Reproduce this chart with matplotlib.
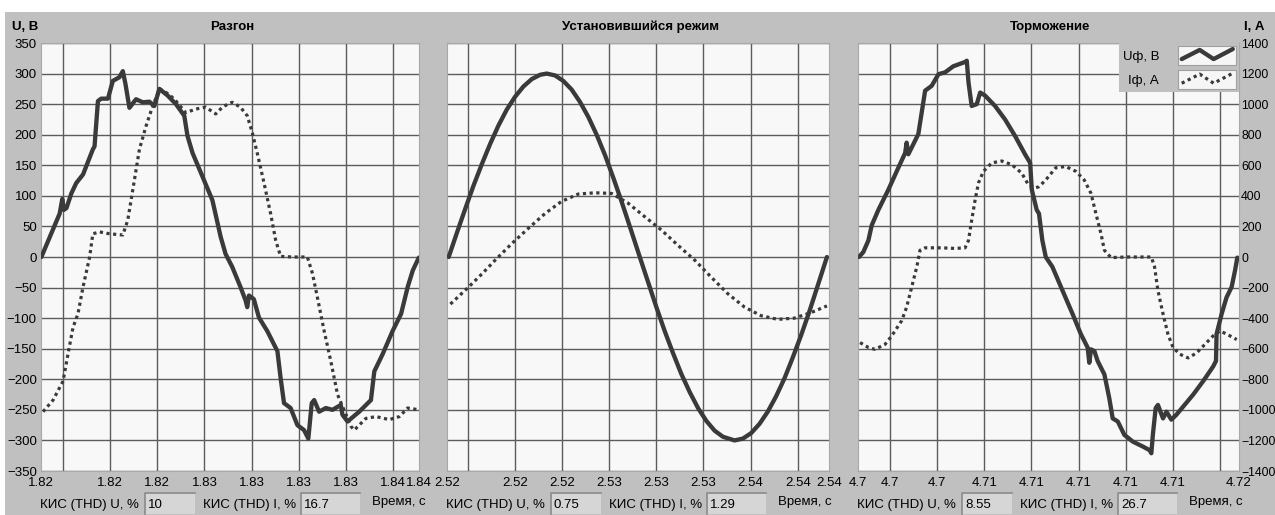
import numpy as np
import matplotlib
matplotlib.use('Agg')
import matplotlib.pyplot as plt
from matplotlib.patches import Rectangle
from matplotlib.lines import Line2D
from matplotlib.legend_handler import HandlerLine2D

W, H = 1275, 515
GRAY = '#c0c0c0'
INK = '#3a3a3a'
GRID = '#5c5c5c'

plt.rcParams['font.family'] = ['Liberation Sans', 'DejaVu Sans']
plt.rcParams['font.size'] = 9.5

# ---- data (time in ms from each panel's first gridline) ----
TITLES = ['Разгон', 'Установившийся режим', 'Торможение']
T0 = [1.82, 2.52, 4.70]
XLIM_MS = [(-1.17, 18.88), (-1.11, 19.16), (-1.70, 18.51)]

accel_u_ms = [-1.15, -0.70, -0.18, -0.04, 0.04, 0.18, 0.44, 0.70, 1.06, 1.58,
              1.67, 1.85, 2.02, 2.38, 2.64, 2.99, 3.17, 3.31, 3.52, 3.87,
              4.23, 4.58, 4.84, 5.11, 5.55, 5.99, 6.43, 6.60, 6.87, 7.39,
              7.92, 8.36, 8.62, 8.97, 9.41, 9.68, 9.77, 9.86, 10.12, 10.39,
              10.83, 11.37, 11.54, 11.72, 12.07, 12.43, 12.78, 13.01, 13.19,
              13.32, 13.58, 13.94, 14.29, 14.73, 14.82, 15.09, 15.71, 16.33,
              16.51, 16.95, 17.48, 17.93, 18.28, 18.55, 18.87]
accel_u = [0, 33, 71, 95, 77, 80, 104, 121, 135, 176,
           181, 255, 259, 259, 288, 294, 304, 283, 244, 258,
           253, 254, 247, 275, 264, 250, 231, 198, 170, 132,
           93, 33, 5, -16, -49, -71, -82, -63, -69, -99,
           -121, -154, -198, -239, -247, -275, -283, -297, -239,
           -234, -253, -247, -250, -242, -258, -269, -253, -234,
           -187, -159, -121, -93, -49, -22, -1]
accel_i_ms = [-1.06, -0.53, 0.00, 0.26, 0.53, 0.79, 1.06, 1.41, 1.58, 1.94,
              2.46, 3.17, 3.43, 3.70, 4.05, 4.40, 4.67, 4.84, 5.11, 5.63,
              5.99, 6.51, 7.04, 7.57, 8.10, 8.45, 8.80, 8.97, 9.41, 9.77,
              10.04, 10.30, 10.66, 11.01, 11.28, 11.54, 12.16, 12.96, 13.23,
              13.49, 13.85, 14.20, 14.56, 14.90, 15.27, 15.45, 16.06, 16.60,
              17.30, 17.84, 18.28, 18.90]
accel_i = [-1012, -936, -812, -636, -460, -372, -196, 0, 152, 164,
           152, 144, 240, 440, 704, 856, 956, 1012, 1100, 1064,
           1020, 944, 968, 980, 936, 980, 1004, 1012, 980, 924,
           812, 680, 484, 284, 108, 4, 0, 0, -108,
           -264, -484, -680, -900, -1000, -1108, -1132, -1056, -1044,
           -1064, -1044, -988, -1000]

steady_u_ms = [-1.02, -0.58, -0.14, 0.30, 0.74, 1.18, 1.62, 2.06, 2.50, 2.95,
               3.39, 3.83, 4.18, 4.62, 5.06, 5.50, 5.94, 6.39, 6.83, 7.27,
               7.71, 8.15, 8.59, 9.12, 9.56, 10.00, 10.44, 10.88, 11.32, 11.77,
               12.21, 12.65, 13.09, 13.53, 14.15, 14.59, 15.03, 15.47, 15.91,
               16.35, 16.79, 17.23, 17.68, 18.12, 18.56, 19.05]
steady_u = [0, 40, 79, 117, 152, 185, 215, 241, 262, 279,
            291, 298, 300, 297, 288, 274, 254, 229, 200, 167,
            130, 91, 50, 0, -41, -82, -121, -157, -191, -221,
            -247, -268, -284, -294, -300, -297, -288, -273, -253,
            -228, -199, -165, -128, -89, -47, 0]
steady_i_ms = [-0.93, 0.04, 0.75, 1.45, 2.33, 3.21, 4.09, 4.97, 5.86, 6.74,
               7.62, 8.50, 9.38, 10.27, 11.15, 12.03, 12.91, 13.79, 14.68,
               15.56, 16.44, 17.32, 18.20, 19.05]
steady_i = [-308, -196, -110, -20, 88, 188, 284, 364, 412, 420,
            416, 352, 264, 176, 76, -20, -132, -240, -328,
            -384, -408, -400, -364, -320]

brake_u_ms = [-1.65, -1.42, -1.15, -0.97, -0.62, -0.09, 0.44, 0.80, 0.88, 0.97,
              1.50, 1.86, 2.21, 2.57, 2.92, 3.36, 3.98, 4.07, 4.16, 4.33,
              4.60, 4.78, 5.04, 5.57, 6.10, 6.63, 7.16, 7.43, 7.52, 7.78,
              7.90, 8.08, 8.26, 8.61, 9.15, 9.68, 10.12, 10.48, 10.57, 10.66,
              10.84, 11.01, 11.37, 11.63, 11.81, 12.08, 12.43, 12.88, 13.41,
              13.77, 13.86, 13.94, 14.09, 14.21, 14.48, 14.66, 14.92, 15.19,
              15.54, 16.08, 16.61, 17.14, 17.29, 17.32, 17.59, 17.85, 18.12,
              18.30, 18.42]
brake_u = [0, 8, 27, 52, 77, 110, 146, 170, 187, 168,
           201, 272, 280, 299, 302, 312, 319, 321, 286, 247,
           250, 269, 264, 247, 225, 198, 168, 154, 110, 77,
           71, 27, 0, -16, -55, -93, -126, -148, -173, -151,
           -154, -170, -192, -231, -264, -269, -291, -302, -310,
           -316, -321, -291, -247, -242, -264, -253, -266, -258,
           -245, -225, -203, -179, -170, -126, -93, -66, -49,
           -22, -1]
brake_i_ms = [-1.59, -1.15, -0.80, -0.27, 0.09, 0.62, 0.88, 1.06, 1.24, 1.42,
              1.59, 1.86, 2.74, 3.45, 3.98, 4.16, 4.33, 4.51, 4.69, 4.95,
              5.40, 5.93, 6.46, 6.99, 7.34, 7.70, 7.90, 8.26, 8.79, 9.32,
              9.86, 10.30, 10.66, 10.92, 11.19, 11.37, 11.72, 12.52, 13.23,
              13.86, 14.03, 14.21, 14.48, 14.74, 15.01, 15.37, 15.81, 16.26,
              16.79, 17.14, 17.50, 17.85, 18.39]
brake_i = [-560, -592, -604, -572, -516, -416, -328, -240, -152, -64,
           44, 60, 60, 56, 60, 108, 240, 372, 484, 560,
           616, 628, 604, 548, 472, 452, 460, 504, 584, 592,
           560, 504, 416, 284, 152, 44, -4, 0, 0,
           0, -64, -220, -372, -504, -592, -636, -660, -628,
           -560, -516, -484, -504, -540]

TICK_LABELS = [['1.82', '1.82', '1.82', '1.83', '1.83', '1.83', '1.83', '1.84', '1.84'],
               ['2.52', '2.52', '2.52', '2.53', '2.53', '2.53', '2.54', '2.54', '2.54'],
               ['4.7', '4.7', '4.7', '4.71', '4.71', '4.71', '4.71', '4.71', '4.72']]
LABELED_GRID = [range(1, 8), range(1, 8), range(0, 7)]
THD_U = ['10', '0.75', '8.55']
THD_I = ['16.7', '1.29', '26.7']

U_SERIES = [(accel_u_ms, accel_u), (steady_u_ms, steady_u), (brake_u_ms, brake_u)]
I_SERIES = [(accel_i_ms, accel_i), (steady_i_ms, steady_i), (brake_i_ms, brake_i)]

# ---- layout (pixels) ----
AX_PX = [(41, 419), (447, 829), (858, 1239)]
TOP, BOT = 43, 471
U_STYLE = dict(color=INK, lw=3.1, solid_joinstyle='round', solid_capstyle='round')
I_STYLE = dict(color=INK, lw=2.3, linestyle=(0, (1.0, 1.1)))


def fx(x):
    return x / W


def fy(y):
    return 1 - y / H


class ZigzagHandler(HandlerLine2D):
    def create_artists(self, legend, orig_handle, xdescent, ydescent,
                       width, height, fontsize, trans):
        box = Rectangle((-xdescent, -ydescent), width, height,
                        facecolor='#f6f6f6', edgecolor='#a0a0a0', lw=0.8,
                        transform=trans)
        xs = -xdescent + width * np.array([0.07, 0.38, 0.62, 0.95])
        ys = -ydescent + height * np.array([0.3, 0.8, 0.3, 0.85])
        line = Line2D(xs, ys)
        self.update_prop(line, orig_handle, legend)
        line.set_transform(trans)
        return [box, line]


fig = plt.figure(figsize=(W / 100, H / 100), dpi=100, facecolor='white')
fig.patches.append(Rectangle((fx(5), 0), 1, fy(12), transform=fig.transFigure,
                             facecolor=GRAY, edgecolor='none', zorder=-10))

for k in range(3):
    x0, x1 = AX_PX[k]
    ax = fig.add_axes([fx(x0), fy(BOT), (x1 - x0) / W, (BOT - TOP) / H])
    ax.set_facecolor('#f8f8f8')
    lim = (T0[k] + XLIM_MS[k][0] / 1000, T0[k] + XLIM_MS[k][1] / 1000)
    ax.set_xlim(lim)
    ax.set_ylim(-350, 350)

    grid_t = [T0[k] + 0.0025 * j for j in range(8)]
    ax.xaxis.remove_overlapping_locs = False
    ax.set_xticks(grid_t, minor=True)
    pos = [lim[0]] + [grid_t[j] for j in LABELED_GRID[k]] + [lim[1]]
    ax.set_xticks(pos, TICK_LABELS[k])
    ax.set_yticks(np.arange(-350, 351, 50))
    ax.grid(which='minor', axis='x', color=GRID, lw=1.0)
    ax.grid(which='major', axis='y', color=GRID, lw=1.0)
    ax.tick_params(which='both', length=0)
    ax.tick_params(axis='x', pad=4)
    ax.tick_params(axis='y', pad=3, labelleft=(k == 0))
    ax.set_axisbelow(True)
    for s in ax.spines.values():
        s.set_color('#a8a8a8')

    t_u = T0[k] + np.array(U_SERIES[k][0]) / 1000
    ax.plot(t_u, U_SERIES[k][1], zorder=3, **U_STYLE)

    ax2 = ax.twinx()
    ax2.set_ylim(-1400, 1400)
    ax2.set_yticks(np.arange(-1400, 1401, 200))
    ax2.tick_params(length=0, pad=1.5, labelright=(k == 2), labelsize=8.8)
    for s in ax2.spines.values():
        s.set_visible(False)
    t_i = T0[k] + np.array(I_SERIES[k][0]) / 1000
    ax2.plot(t_i, I_SERIES[k][1], zorder=3, **I_STYLE)

    fig.text(fx((x0 + x1) / 2 + 2), fy(27), TITLES[k], ha='center', va='center',
             weight='bold')

    if k == 2:
        hu = Line2D([], [], **U_STYLE)
        hi = Line2D([], [], **I_STYLE)
        leg = ax2.legend([hu, hi], ['Uф, В', 'Iф, А'], loc='upper right',
                         bbox_to_anchor=(1, 1), borderaxespad=0, markerfirst=False,
                         handler_map={Line2D: ZigzagHandler()},
                         handlelength=4.4, handleheight=1.75, handletextpad=1.4,
                         labelspacing=0.45, borderpad=0.25, fancybox=False,
                         facecolor=GRAY, edgecolor=GRAY, framealpha=1)
        leg.get_frame().set_linewidth(0)

    # bottom readouts
    dx = x0 - 41
    fig.text(fx(40 + dx), fy(505), 'КИС (THD) U, %', ha='left', va='center')
    fig.text(fx(203 + dx), fy(505), 'КИС (THD) I, %', ha='left', va='center')
    fig.text(fx(372 + dx), fy(502), 'Время, с', ha='left', va='center')
    for bx0, bx1, val in [(145, 195, THD_U[k]), (301, 360, THD_I[k])]:
        fig.patches.append(Rectangle((fx(bx0 + dx), fy(514)), (bx1 - bx0) / W, 21 / H,
                                     transform=fig.transFigure, facecolor='#d6d6d6',
                                     edgecolor='none', zorder=-5))
        fig.add_artist(Line2D([fx(bx0 + dx), fx(bx0 + dx), fx(bx1 + dx)],
                              [fy(514), fy(493), fy(493)], color='#8a8a8a', lw=1.2))
        fig.text(fx(bx0 + dx + 3), fy(505), val, ha='left', va='center')

fig.text(fx(12), fy(27), 'U, В', ha='left', va='center', weight='bold')
fig.text(fx(1244), fy(27), 'I, А', ha='left', va='center', weight='bold')

fig.savefig('out.png', dpi=100, facecolor=fig.get_facecolor())
